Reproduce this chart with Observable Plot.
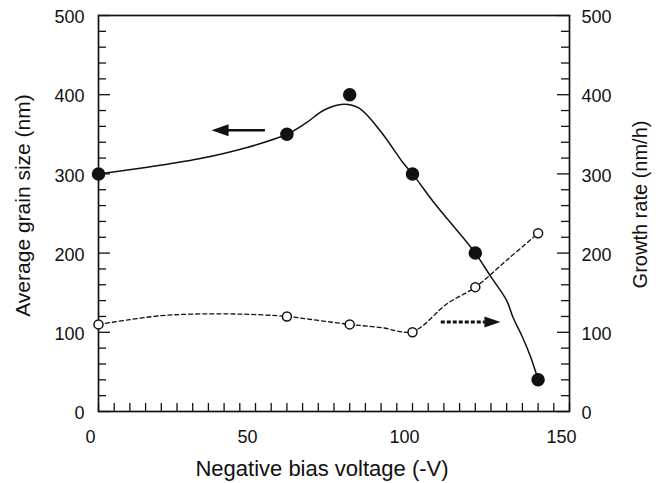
<!DOCTYPE html>
<html>
<head>
<meta charset="utf-8">
<script src="https://cdn.jsdelivr.net/npm/d3@7"></script>
<script src="https://cdn.jsdelivr.net/npm/@observablehq/plot@0.6"></script>
<style>
  html, body { margin: 0; padding: 0; background: #fff; }
  #chart { width: 662px; height: 483px; }
</style>
</head>
<body>
<div id="chart"></div>
<script>
// Measured points
const voltage    = [0, 60, 80, 100, 120, 140];
const grainSize  = [300, 350, 400, 300, 200, 40];
const growthRate = [110, 120, 110, 100, 157, 225];

// Smoothed guide curves
const grainCurveV  = [0, 15, 32, 47, 60, 66, 72, 78, 83, 90, 97, 100, 107, 116, 120, 125, 130, 132, 135, 137.6, 140];
const grainCurveY  = [300, 308, 319, 333, 350, 364, 381, 388, 383, 353, 314, 300, 263, 220, 200, 170, 140, 119, 94, 69, 40];
const growthCurveV = [0, 10, 20, 30, 45, 60, 70, 80, 90, 100, 111, 120, 130, 140];
const growthCurveY = [110, 116, 121, 123, 123, 120, 115, 110, 106, 101, 136, 157, 191, 225];

// Arrows (tail, head base, tip, level)
const arrowTail = [53, 109];
const arrowBase = [41, 123];
const arrowTip  = [36, 128];
const arrowY    = [355, 113];

// Tick labels
const xTicks = [0, 50, 100, 150];
const yTicks = [0, 100, 200, 300, 400, 500];
const xMinor = d3.range(0, 151, 5);
const yMinor = d3.range(0, 501, 20);

const xLabel = "Negative bias voltage (-V)";
const yLabelLeft = "Average grain size (nm)";
const yLabelRight = "Growth rate (nm/h)";

const W = 662, H = 483;
const mL = 98, mR = 93, mT = 15, mB = 72;
const pW = W - mL - mR, pH = H - mT - mB;

const measured = voltage.map((v, i) => ({v, g: grainSize[i], r: growthRate[i]}));
const grainCurve = grainCurveV.map((v, i) => ({v, y: grainCurveY[i]}));
const growthCurve = growthCurveV.map((v, i) => ({v, y: growthCurveY[i]}));
const arrows = arrowY.map((y, i) => ({y, tail: arrowTail[i], base: arrowBase[i], tip: arrowTip[i]}));

const headLeft = {draw(ctx) { ctx.moveTo(0, 0); ctx.lineTo(17, -6); ctx.lineTo(17, 6); ctx.closePath(); }};
const headRight = {draw(ctx) { ctx.moveTo(0, 0); ctx.lineTo(-16, -5.5); ctx.lineTo(-16, 5.5); ctx.closePath(); }};

const ink = "#111";

const chart = Plot.plot({
  width: W, height: H,
  marginLeft: mL, marginRight: mR, marginTop: mT, marginBottom: mB,
  style: {fontFamily: "'Liberation Sans', Arial, sans-serif", fontSize: "18px", color: ink, background: "#fff"},
  x: {domain: [0, 150]},
  y: {domain: [0, 500]},
  marks: [
    // inward ticks
    Plot.ruleY(yMinor.filter(d => d % 100 !== 0), {y: d => d, insetRight: pW - 8, stroke: ink, strokeWidth: 1.3}),
    Plot.ruleY(yTicks, {y: d => d, insetRight: pW - 12, stroke: ink, strokeWidth: 1.3}),
    Plot.ruleY(yMinor.filter(d => d % 100 !== 0), {y: d => d, insetLeft: pW - 8, stroke: ink, strokeWidth: 1.3}),
    Plot.ruleY(yTicks, {y: d => d, insetLeft: pW - 12, stroke: ink, strokeWidth: 1.3}),
    Plot.ruleX(xMinor, {x: d => d, insetTop: pH - 8, stroke: ink, strokeWidth: 1.3}),
    Plot.frame({stroke: ink, strokeWidth: 1.7}),
    // axes labels
    Plot.axisX({ticks: xTicks, tickSize: 0, tickPadding: 19, dx: -8, label: null, fontSize: 18, fill: ink}),
    Plot.axisY({anchor: "left", ticks: yTicks, tickSize: 0, tickPadding: 14, dy: 2, label: null, fontSize: 18, fill: ink}),
    Plot.axisY({anchor: "right", ticks: yTicks, tickSize: 0, tickPadding: 12, dy: 2, label: null, fontSize: 18, fill: ink}),
    // titles
    Plot.text([xLabel], {frameAnchor: "bottom", text: d => d, dx: -12, dy: 57, fontSize: 22, fill: ink, textAnchor: "middle", lineAnchor: "middle"}),
    Plot.text([yLabelLeft], {frameAnchor: "left", text: d => d, rotate: -90, dx: -75, dy: -8, fontSize: 21, fill: ink, textAnchor: "middle", lineAnchor: "middle"}),
    Plot.text([yLabelRight], {frameAnchor: "right", text: d => d, rotate: -90, dx: 71, dy: -9, fontSize: 20, fill: ink, textAnchor: "middle", lineAnchor: "middle"}),
    // curves
    Plot.line(grainCurve, {x: "v", y: "y", curve: "catmull-rom", stroke: ink, strokeWidth: 1.5}),
    Plot.line(growthCurve, {x: "v", y: "y", curve: "catmull-rom", stroke: ink, strokeWidth: 1.3, strokeDasharray: "4,3"}),
    // arrows
    Plot.link([arrows[0]], {x1: "tail", x2: "base", y1: "y", y2: "y", stroke: ink, strokeWidth: 2.5}),
    Plot.link([arrows[1]], {x1: "tail", x2: "base", y1: "y", y2: "y", stroke: ink, strokeWidth: 3, strokeDasharray: "4,2"}),
    Plot.dot([arrows[0]], {x: "tip", y: "y", symbol: headLeft, fill: ink, stroke: "none"}),
    Plot.dot([arrows[1]], {x: "tip", y: "y", symbol: headRight, fill: ink, stroke: "none"}),
    // points
    Plot.dot(measured, {x: "v", y: "g", r: 6, fill: ink, stroke: ink}),
    Plot.dot(measured, {x: "v", y: "r", r: 4.5, fill: "#fff", stroke: ink, strokeWidth: 1.5})
  ]
});
document.getElementById("chart").appendChild(chart);
</script>
</body>
</html>
